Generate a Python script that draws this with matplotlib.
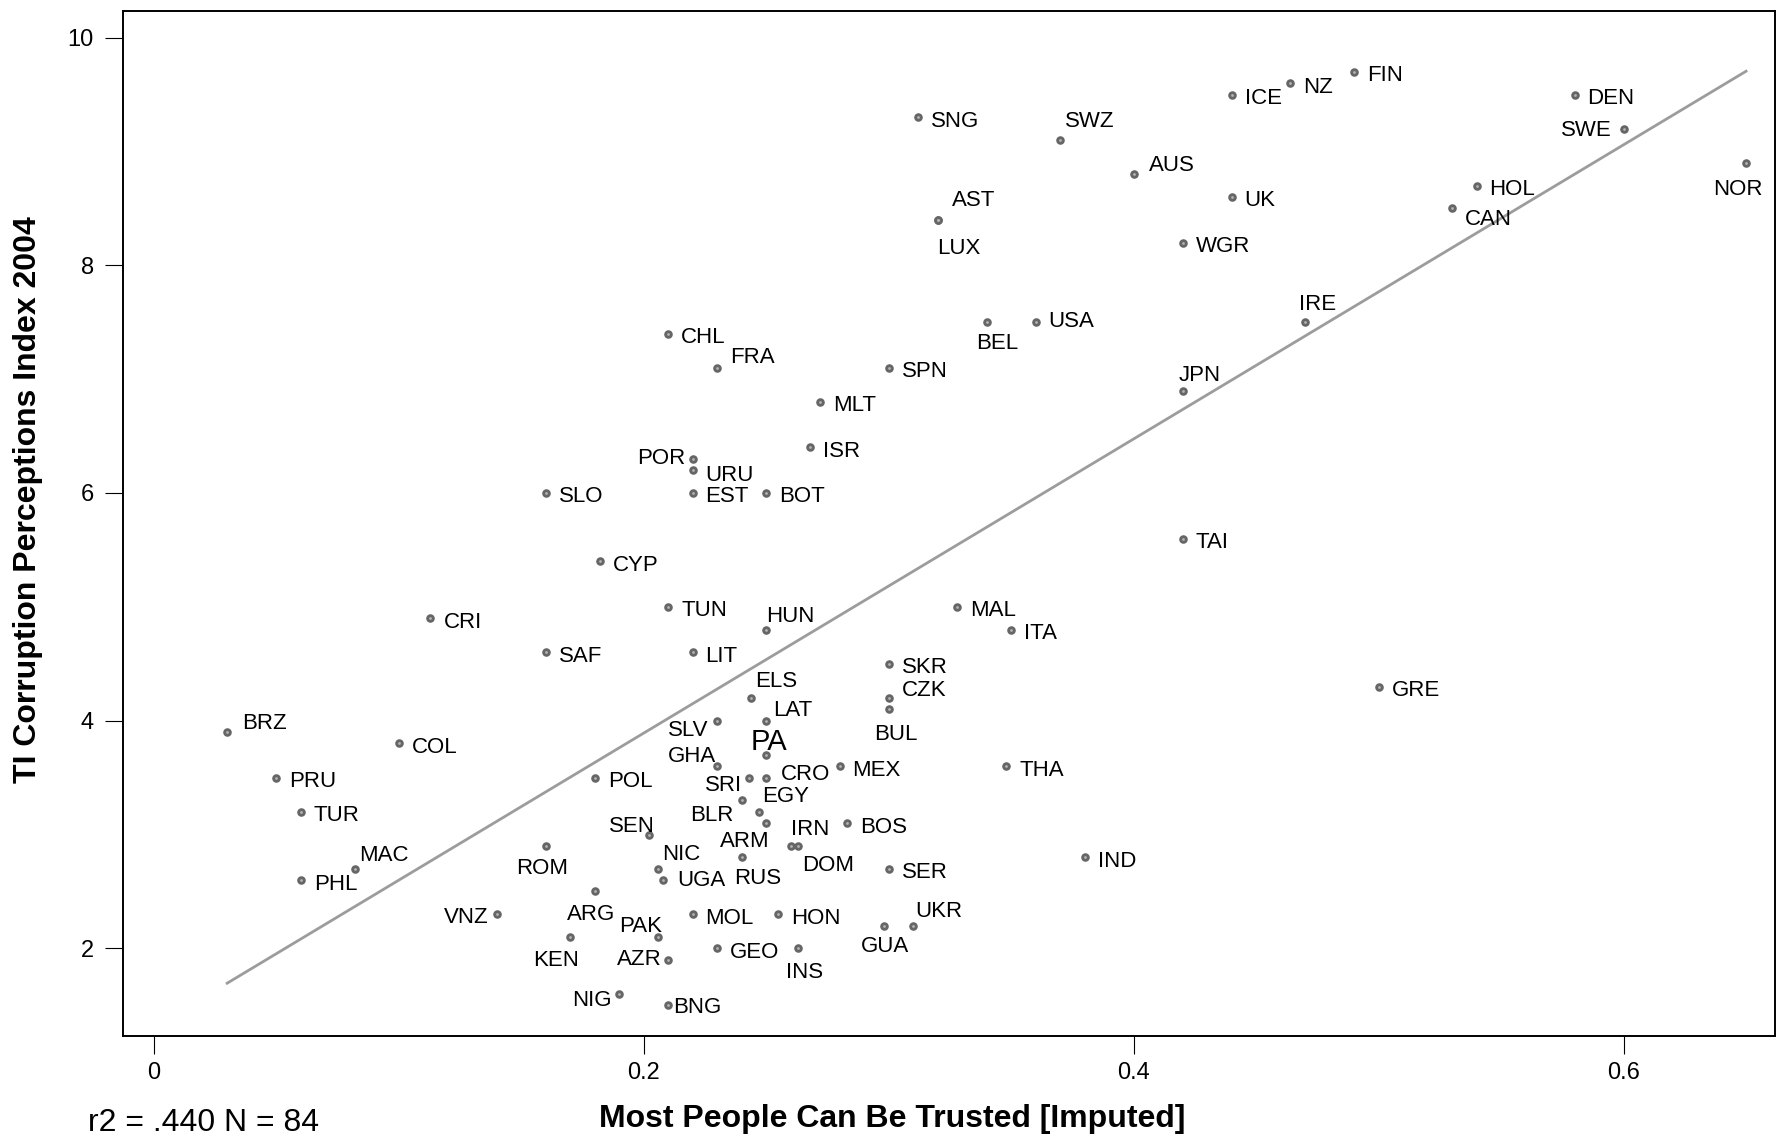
import matplotlib
matplotlib.use("Agg")
import matplotlib.pyplot as plt
import numpy as np

plt.rcParams["font.family"] = ["Liberation Sans", "DejaVu Sans"]

# data: country code, trust (imputed), CPI 2004
countries = [
    "FIN", "NZ", "ICE", "DEN", "SWE", "NOR", "SNG", "SWZ", "AUS", "UK",
    "HOL", "CAN", "AST", "LUX", "WGR", "IRE", "USA", "BEL", "CHL", "FRA",
    "SPN", "JPN", "MLT", "ISR", "POR", "URU", "EST", "BOT", "SLO", "TAI",
    "CYP", "TUN", "MAL", "CRI", "HUN", "ITA", "SAF", "LIT", "SKR", "GRE",
    "CZK", "ELS", "BUL", "LAT", "SLV", "BRZ", "COL", "PA", "GHA", "MEX",
    "THA", "PRU", "POL", "SRI", "CRO", "EGY", "TUR", "BLR", "BOS", "ARM",
    "IRN", "DOM", "SEN", "ROM", "MAC", "NIC", "RUS", "SER", "PHL", "UGA",
    "IND", "ARG", "VNZ", "MOL", "HON", "UKR", "GUA", "PAK", "KEN", "GEO",
    "INS", "AZR", "NIG", "BNG",
]
trust = [
    0.490, 0.464, 0.440, 0.580, 0.600, 0.650, 0.312, 0.370, 0.400, 0.440,
    0.540, 0.530, 0.320, 0.320, 0.420, 0.470, 0.360, 0.340, 0.210, 0.230,
    0.300, 0.420, 0.272, 0.268, 0.220, 0.220, 0.220, 0.250, 0.160, 0.420,
    0.182, 0.210, 0.328, 0.113, 0.250, 0.350, 0.160, 0.220, 0.300, 0.500,
    0.300, 0.244, 0.300, 0.250, 0.230, 0.030, 0.100, 0.250, 0.230, 0.280,
    0.348, 0.050, 0.180, 0.243, 0.250, 0.247, 0.060, 0.240, 0.283, 0.250,
    0.260, 0.263, 0.202, 0.160, 0.082, 0.206, 0.240, 0.300, 0.060, 0.208,
    0.380, 0.180, 0.140, 0.220, 0.255, 0.310, 0.298, 0.206, 0.170, 0.230,
    0.263, 0.210, 0.190, 0.210,
]
cpi = [
    9.7, 9.6, 9.5, 9.5, 9.2, 8.9, 9.3, 9.1, 8.8, 8.6,
    8.7, 8.5, 8.4, 8.4, 8.2, 7.5, 7.5, 7.5, 7.4, 7.1,
    7.1, 6.9, 6.8, 6.4, 6.3, 6.2, 6.0, 6.0, 6.0, 5.6,
    5.4, 5.0, 5.0, 4.9, 4.8, 4.8, 4.6, 4.6, 4.5, 4.3,
    4.2, 4.2, 4.1, 4.0, 4.0, 3.9, 3.8, 3.7, 3.6, 3.6,
    3.6, 3.5, 3.5, 3.5, 3.5, 3.2, 3.2, 3.3, 3.1, 3.1,
    2.9, 2.9, 3.0, 2.9, 2.7, 2.7, 2.8, 2.7, 2.6, 2.6,
    2.8, 2.5, 2.3, 2.3, 2.3, 2.2, 2.2, 2.1, 2.1, 2.0,
    2.0, 1.9, 1.6, 1.5,
]
x_ticks = [0, 0.2, 0.4, 0.6]
x_ticklabels = ["0", "0.2", "0.4", "0.6"]
y_ticks = [2, 4, 6, 8, 10]
stats_text = "r2 = .440 N = 84"

# label placement (ha, dx px, dy px); default is to the right of the marker
RIGHT = ("left", 13, -4)
label_pos = {
    "AST": ("left", 14, 19), "LUX": ("left", 0, -29), "SWZ": ("left", 5, 19),
    "AUS": ("left", 15, 9), "BEL": ("center", 11, -21), "JPN": ("center", 17, 15),
    "IRE": ("center", 12, 18), "CZK": ("left", 13, 7), "BUL": ("center", 7, -25),
    "CAN": ("left", 13, -11), "SWE": ("right", -12, -2), "NOR": ("center", -8, -27),
    "FRA": ("left", 13, 10), "POR": ("right", -7, 0), "URU": ("left", 13, -5),
    "HUN": ("left", 0, 13), "ELS": ("left", 4, 16), "SLV": ("right", -9, -10),
    "LAT": ("left", 7, 10), "PA": ("center", 3, 13), "GHA": ("right", -1, 10),
    "SRI": ("right", -7, -8), "CRO": ("left", 15, 3), "BLR": ("right", -8, -15),
    "EGY": ("left", 3, 15), "ARM": ("right", 3, -18), "IRN": ("left", 0, 16),
    "DOM": ("left", 4, -20), "SEN": ("right", 6, 8), "NIC": ("left", 4, 14),
    "RUS": ("left", -7, -21), "ARG": ("center", -4, -23), "PAK": ("right", 4, 10),
    "KEN": ("center", -14, -24), "AZR": ("right", -6, 0), "NIG": ("right", -8, -7),
    "BNG": ("left", 5, -2), "INS": ("center", 7, -24), "GUA": ("center", 1, -21),
    "UKR": ("left", 2, 14), "VNZ": ("right", -8, -3), "ROM": ("center", -4, -23),
    "BRZ": ("left", 15, 9), "MAC": ("left", 5, 13), "UGA": ("left", 14, 0),
    "USA": ("left", 13, 1),
}

fig = plt.figure(figsize=(17.83, 11.40), dpi=100)
ax = fig.add_axes([0.0690, 0.0912, 0.9265, 0.8991])

x = np.array(trust)
y = np.array(cpi)

# fit line
slope, intercept = np.polyfit(x, y, 1)
xs = np.array([x.min(), x.max()])
ax.plot(xs, intercept + slope * xs, color="#9c9c9c", lw=2.0, zorder=2)

ax.scatter(x, y, s=38, color="#666666", linewidths=0, zorder=3)
ax.scatter(x, y, s=4, color="#b4b4b4", linewidths=0, zorder=4)

for name, xi, yi in zip(countries, trust, cpi):
    ha, dx, dy = label_pos.get(name, RIGHT)
    size = 21 if name == "PA" else 16
    ax.annotate(name, (xi, yi), xytext=(dx, dy), textcoords="offset pixels",
                ha=ha, va="center", fontsize=size, color="black", zorder=5)

ax.set_xlim(-0.0125, 0.6618)
ax.set_ylim(1.23, 10.233)
ax.set_xticks(x_ticks)
ax.set_xticklabels(x_ticklabels)
ax.set_yticks(y_ticks)
ax.tick_params(axis="both", direction="out", length=13, width=0.8,
               labelsize=17, color="black")
ax.tick_params(axis="y", pad=8)
ax.tick_params(axis="x", pad=6)
for sp in ax.spines.values():
    sp.set_linewidth(1.4)
    sp.set_color("black")

fig.text(0.0157, 0.5614, "TI Corruption Perceptions Index 2004", rotation=90,
         ha="center", va="center", fontsize=23, fontweight="bold")
fig.text(0.5003, 0.0184, "Most People Can Be Trusted [Imputed]",
         ha="center", va="center", fontsize=23, fontweight="bold")
fig.text(0.0491, 0.0147, stats_text, ha="left", va="center", fontsize=23)

fig.savefig("out.png", dpi=100, facecolor="white")
